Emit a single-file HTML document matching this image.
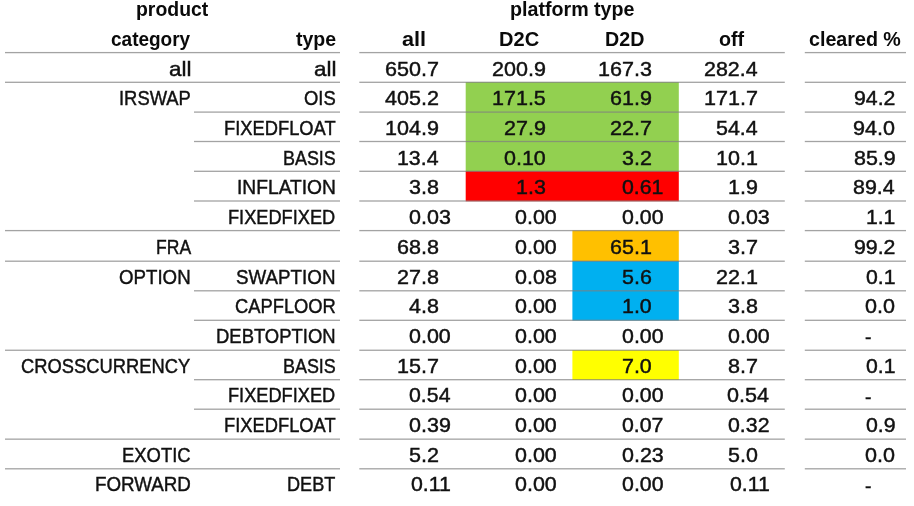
<!DOCTYPE html>
<html lang="en">
<head>
<meta charset="utf-8">
<title>Notional by product and platform type</title>
<style>
html,body{margin:0;padding:0;background:#fff;}
body{width:914px;height:506px;position:relative;overflow:hidden;font-family:"Liberation Sans",sans-serif;color:#111;}
.table{position:absolute;left:0;top:0;width:914px;height:506px;will-change:transform;}
.bg{position:absolute;left:0;top:0;}
.t{position:absolute;white-space:nowrap;line-height:1;-webkit-text-stroke:0.45px #111;}
.b{font-weight:bold;color:#0a0a0a;-webkit-text-stroke:0;}
</style>
</head>
<body>
<div class="table">
<svg class="bg" width="914" height="506" viewBox="0 0 914 506">
<rect x="465.7" y="82.10" width="213.1" height="89.50" fill="#92d050"/>
<rect x="465.7" y="171.10" width="213.1" height="30.20" fill="#ff0000"/>
<rect x="572.4" y="230.40" width="106.4" height="31.10" fill="#ffc000"/>
<rect x="572.4" y="261.00" width="106.4" height="59.60" fill="#00b0f0"/>
<rect x="572.4" y="350.05" width="106.4" height="29.95" fill="#ffff00"/>
<rect x="5" y="51.95" width="335" height="1.3" fill="#808080" fill-opacity="0.72"/>
<rect x="359.3" y="51.95" width="425.5" height="1.3" fill="#808080" fill-opacity="0.72"/>
<rect x="804.8" y="51.95" width="101.2" height="1.3" fill="#808080" fill-opacity="0.72"/>
<rect x="5" y="81.65" width="335" height="1.3" fill="#808080" fill-opacity="0.72"/>
<rect x="359.3" y="81.65" width="425.5" height="1.3" fill="#808080" fill-opacity="0.72"/>
<rect x="804.8" y="81.65" width="101.2" height="1.3" fill="#808080" fill-opacity="0.72"/>
<rect x="194" y="111.45" width="146" height="1.3" fill="#808080" fill-opacity="0.72"/>
<rect x="359.3" y="111.45" width="425.5" height="1.3" fill="#808080" fill-opacity="0.72"/>
<rect x="804.8" y="111.45" width="101.2" height="1.3" fill="#808080" fill-opacity="0.72"/>
<rect x="194" y="140.85" width="146" height="1.3" fill="#808080" fill-opacity="0.72"/>
<rect x="359.3" y="140.85" width="425.5" height="1.3" fill="#808080" fill-opacity="0.72"/>
<rect x="804.8" y="140.85" width="101.2" height="1.3" fill="#808080" fill-opacity="0.72"/>
<rect x="194" y="170.65" width="146" height="1.3" fill="#808080" fill-opacity="0.72"/>
<rect x="359.3" y="170.65" width="425.5" height="1.3" fill="#808080" fill-opacity="0.72"/>
<rect x="804.8" y="170.65" width="101.2" height="1.3" fill="#808080" fill-opacity="0.72"/>
<rect x="194" y="200.35" width="146" height="1.3" fill="#808080" fill-opacity="0.72"/>
<rect x="359.3" y="200.35" width="425.5" height="1.3" fill="#808080" fill-opacity="0.72"/>
<rect x="804.8" y="200.35" width="101.2" height="1.3" fill="#808080" fill-opacity="0.72"/>
<rect x="5" y="229.95" width="335" height="1.3" fill="#808080" fill-opacity="0.72"/>
<rect x="359.3" y="229.95" width="425.5" height="1.3" fill="#808080" fill-opacity="0.72"/>
<rect x="804.8" y="229.95" width="101.2" height="1.3" fill="#808080" fill-opacity="0.72"/>
<rect x="5" y="260.55" width="335" height="1.3" fill="#808080" fill-opacity="0.72"/>
<rect x="359.3" y="260.55" width="425.5" height="1.3" fill="#808080" fill-opacity="0.72"/>
<rect x="804.8" y="260.55" width="101.2" height="1.3" fill="#808080" fill-opacity="0.72"/>
<rect x="194" y="290.15" width="146" height="1.3" fill="#808080" fill-opacity="0.72"/>
<rect x="359.3" y="290.15" width="425.5" height="1.3" fill="#808080" fill-opacity="0.72"/>
<rect x="804.8" y="290.15" width="101.2" height="1.3" fill="#808080" fill-opacity="0.72"/>
<rect x="194" y="319.65" width="146" height="1.3" fill="#808080" fill-opacity="0.72"/>
<rect x="359.3" y="319.65" width="425.5" height="1.3" fill="#808080" fill-opacity="0.72"/>
<rect x="804.8" y="319.65" width="101.2" height="1.3" fill="#808080" fill-opacity="0.72"/>
<rect x="5" y="349.60" width="335" height="1.3" fill="#808080" fill-opacity="0.72"/>
<rect x="359.3" y="349.60" width="425.5" height="1.3" fill="#808080" fill-opacity="0.72"/>
<rect x="804.8" y="349.60" width="101.2" height="1.3" fill="#808080" fill-opacity="0.72"/>
<rect x="194" y="379.05" width="146" height="1.3" fill="#808080" fill-opacity="0.72"/>
<rect x="359.3" y="379.05" width="425.5" height="1.3" fill="#808080" fill-opacity="0.72"/>
<rect x="804.8" y="379.05" width="101.2" height="1.3" fill="#808080" fill-opacity="0.72"/>
<rect x="194" y="408.55" width="146" height="1.3" fill="#808080" fill-opacity="0.72"/>
<rect x="359.3" y="408.55" width="425.5" height="1.3" fill="#808080" fill-opacity="0.72"/>
<rect x="804.8" y="408.55" width="101.2" height="1.3" fill="#808080" fill-opacity="0.72"/>
<rect x="5" y="438.50" width="335" height="1.3" fill="#808080" fill-opacity="0.72"/>
<rect x="359.3" y="438.50" width="425.5" height="1.3" fill="#808080" fill-opacity="0.72"/>
<rect x="804.8" y="438.50" width="101.2" height="1.3" fill="#808080" fill-opacity="0.72"/>
<rect x="5" y="468.15" width="335" height="1.3" fill="#808080" fill-opacity="0.72"/>
<rect x="359.3" y="468.15" width="425.5" height="1.3" fill="#808080" fill-opacity="0.72"/>
<rect x="804.8" y="468.15" width="101.2" height="1.3" fill="#808080" fill-opacity="0.72"/>
</svg>
<span class="t b" style="left:135.57px;top:-0.75px;font-size:20.5px;transform-origin:0 0;transform:scaleX(0.9477)">product</span>
<span class="t b" style="left:509.55px;top:-0.75px;font-size:20.5px;transform-origin:0 0;transform:scaleX(0.9587)">platform type</span>
<span class="t b" style="left:110.58px;top:29.25px;font-size:20.5px;transform-origin:0 0;transform:scaleX(0.9266)">category</span>
<span class="t b" style="left:295.71px;top:29.25px;font-size:20.5px;transform-origin:0 0;transform:scaleX(0.9515)">type</span>
<span class="t b" style="left:401.52px;top:29.25px;font-size:20.5px;transform-origin:0 0;transform:scaleX(1.0560)">all</span>
<span class="t b" style="left:499.44px;top:29.25px;font-size:20.5px;transform-origin:0 0;transform:scaleX(0.9781)">D2C</span>
<span class="t b" style="left:605.37px;top:29.25px;font-size:20.5px;transform-origin:0 0;transform:scaleX(0.9598)">D2D</span>
<span class="t b" style="left:718.73px;top:29.25px;font-size:20.5px;transform-origin:0 0;transform:scaleX(0.9605)">off</span>
<span class="t b" style="left:809.24px;top:29.25px;font-size:20.5px;transform-origin:0 0;transform:scaleX(0.9595)">cleared %</span>
<span class="t" style="left:169.24px;top:58.00px;font-size:21px;transform-origin:0 0;transform:scaleX(1.0695)">all</span>
<span class="t" style="left:118.55px;top:87.00px;font-size:21px;transform-origin:0 0;transform:scaleX(0.8751)">IRSWAP</span>
<span class="t" style="left:155.61px;top:236.00px;font-size:21px;transform-origin:0 0;transform:scaleX(0.8352)">FRA</span>
<span class="t" style="left:119.20px;top:266.00px;font-size:21px;transform-origin:0 0;transform:scaleX(0.8897)">OPTION</span>
<span class="t" style="left:21.03px;top:355.00px;font-size:21px;transform-origin:0 0;transform:scaleX(0.8735)">CROSSCURRENCY</span>
<span class="t" style="left:122.21px;top:444.00px;font-size:21px;transform-origin:0 0;transform:scaleX(0.8770)">EXOTIC</span>
<span class="t" style="left:94.99px;top:473.00px;font-size:21px;transform-origin:0 0;transform:scaleX(0.8932)">FORWARD</span>
<span class="t" style="left:314.14px;top:58.00px;font-size:21px;transform-origin:0 0;transform:scaleX(1.0695)">all</span>
<span class="t" style="left:304.12px;top:87.00px;font-size:21px;transform-origin:0 0;transform:scaleX(0.8772)">OIS</span>
<span class="t" style="left:224.22px;top:117.00px;font-size:21px;transform-origin:0 0;transform:scaleX(0.8723)">FIXEDFLOAT</span>
<span class="t" style="left:282.93px;top:147.00px;font-size:21px;transform-origin:0 0;transform:scaleX(0.8532)">BASIS</span>
<span class="t" style="left:237.11px;top:176.00px;font-size:21px;transform-origin:0 0;transform:scaleX(0.9149)">INFLATION</span>
<span class="t" style="left:228.18px;top:206.00px;font-size:21px;transform-origin:0 0;transform:scaleX(0.8669)">FIXEDFIXED</span>
<span class="t" style="left:236.18px;top:266.00px;font-size:21px;transform-origin:0 0;transform:scaleX(0.8940)">SWAPTION</span>
<span class="t" style="left:235.23px;top:295.00px;font-size:21px;transform-origin:0 0;transform:scaleX(0.8727)">CAPFLOOR</span>
<span class="t" style="left:215.81px;top:325.00px;font-size:21px;transform-origin:0 0;transform:scaleX(0.8786)">DEBTOPTION</span>
<span class="t" style="left:283.21px;top:355.00px;font-size:21px;transform-origin:0 0;transform:scaleX(0.8536)">BASIS</span>
<span class="t" style="left:228.18px;top:384.00px;font-size:21px;transform-origin:0 0;transform:scaleX(0.8669)">FIXEDFIXED</span>
<span class="t" style="left:224.22px;top:414.00px;font-size:21px;transform-origin:0 0;transform:scaleX(0.8723)">FIXEDFLOAT</span>
<span class="t" style="left:287.23px;top:473.00px;font-size:21px;transform-origin:0 0;transform:scaleX(0.8625)">DEBT</span>
<span class="t" style="left:385.26px;top:58.00px;font-size:21px;transform-origin:0 0;transform:scaleX(1.0260)">650.7</span>
<span class="t" style="left:492.12px;top:58.00px;font-size:21px;transform-origin:0 0;transform:scaleX(1.0248)">200.9</span>
<span class="t" style="left:598.16px;top:58.00px;font-size:21px;transform-origin:0 0;transform:scaleX(1.0267)">167.3</span>
<span class="t" style="left:703.74px;top:58.00px;font-size:21px;transform-origin:0 0;transform:scaleX(1.0185)">282.4</span>
<span class="t" style="left:385.26px;top:87.00px;font-size:21px;transform-origin:0 0;transform:scaleX(1.0260)">405.2</span>
<span class="t" style="left:491.80px;top:87.00px;font-size:21px;transform-origin:0 0;transform:scaleX(1.0242)">171.5</span>
<span class="t" style="left:610.16px;top:87.00px;font-size:21px;transform-origin:0 0;transform:scaleX(1.0235)">61.9</span>
<span class="t" style="left:704.26px;top:87.00px;font-size:21px;transform-origin:0 0;transform:scaleX(1.0260)">171.7</span>
<span class="t" style="left:853.65px;top:87.00px;font-size:21px;transform-origin:0 0;transform:scaleX(1.0145)">94.2</span>
<span class="t" style="left:385.16px;top:117.00px;font-size:21px;transform-origin:0 0;transform:scaleX(1.0260)">104.9</span>
<span class="t" style="left:504.06px;top:117.00px;font-size:21px;transform-origin:0 0;transform:scaleX(1.0239)">27.9</span>
<span class="t" style="left:610.17px;top:117.00px;font-size:21px;transform-origin:0 0;transform:scaleX(1.0260)">22.7</span>
<span class="t" style="left:715.90px;top:117.00px;font-size:21px;transform-origin:0 0;transform:scaleX(1.0214)">54.4</span>
<span class="t" style="left:853.26px;top:117.00px;font-size:21px;transform-origin:0 0;transform:scaleX(1.0260)">94.0</span>
<span class="t" style="left:397.26px;top:147.00px;font-size:21px;transform-origin:0 0;transform:scaleX(1.0159)">13.4</span>
<span class="t" style="left:503.65px;top:147.00px;font-size:21px;transform-origin:0 0;transform:scaleX(1.0220)">0.10</span>
<span class="t" style="left:622.29px;top:147.00px;font-size:21px;transform-origin:0 0;transform:scaleX(1.0216)">3.2</span>
<span class="t" style="left:716.41px;top:147.00px;font-size:21px;transform-origin:0 0;transform:scaleX(1.0234)">10.1</span>
<span class="t" style="left:853.78px;top:147.00px;font-size:21px;transform-origin:0 0;transform:scaleX(1.0216)">85.9</span>
<span class="t" style="left:408.79px;top:176.00px;font-size:21px;transform-origin:0 0;transform:scaleX(1.0251)">3.8</span>
<span class="t" style="left:515.82px;top:176.00px;font-size:21px;transform-origin:0 0;transform:scaleX(1.0228)">1.3</span>
<span class="t" style="left:621.66px;top:176.00px;font-size:21px;transform-origin:0 0;transform:scaleX(1.0146)">0.61</span>
<span class="t" style="left:728.43px;top:176.00px;font-size:21px;transform-origin:0 0;transform:scaleX(1.0211)">1.9</span>
<span class="t" style="left:853.32px;top:176.00px;font-size:21px;transform-origin:0 0;transform:scaleX(1.0181)">89.4</span>
<span class="t" style="left:408.71px;top:206.00px;font-size:21px;transform-origin:0 0;transform:scaleX(1.0239)">0.03</span>
<span class="t" style="left:515.21px;top:206.00px;font-size:21px;transform-origin:0 0;transform:scaleX(1.0220)">0.00</span>
<span class="t" style="left:621.71px;top:206.00px;font-size:21px;transform-origin:0 0;transform:scaleX(1.0170)">0.00</span>
<span class="t" style="left:727.80px;top:206.00px;font-size:21px;transform-origin:0 0;transform:scaleX(1.0224)">0.03</span>
<span class="t" style="left:865.67px;top:206.00px;font-size:21px;transform-origin:0 0;transform:scaleX(1.0059)">1.1</span>
<span class="t" style="left:397.47px;top:236.00px;font-size:21px;transform-origin:0 0;transform:scaleX(1.0262)">68.8</span>
<span class="t" style="left:515.21px;top:236.00px;font-size:21px;transform-origin:0 0;transform:scaleX(1.0220)">0.00</span>
<span class="t" style="left:610.35px;top:236.00px;font-size:21px;transform-origin:0 0;transform:scaleX(1.0234)">65.1</span>
<span class="t" style="left:728.20px;top:236.00px;font-size:21px;transform-origin:0 0;transform:scaleX(1.0291)">3.7</span>
<span class="t" style="left:853.65px;top:236.00px;font-size:21px;transform-origin:0 0;transform:scaleX(1.0145)">99.2</span>
<span class="t" style="left:397.06px;top:266.00px;font-size:21px;transform-origin:0 0;transform:scaleX(1.0260)">27.8</span>
<span class="t" style="left:515.31px;top:266.00px;font-size:21px;transform-origin:0 0;transform:scaleX(1.0234)">0.08</span>
<span class="t" style="left:621.52px;top:266.00px;font-size:21px;transform-origin:0 0;transform:scaleX(1.0218)">5.6</span>
<span class="t" style="left:716.16px;top:266.00px;font-size:21px;transform-origin:0 0;transform:scaleX(1.0260)">22.1</span>
<span class="t" style="left:865.66px;top:266.00px;font-size:21px;transform-origin:0 0;transform:scaleX(1.0117)">0.1</span>
<span class="t" style="left:408.94px;top:295.00px;font-size:21px;transform-origin:0 0;transform:scaleX(1.0236)">4.8</span>
<span class="t" style="left:515.21px;top:295.00px;font-size:21px;transform-origin:0 0;transform:scaleX(1.0220)">0.00</span>
<span class="t" style="left:622.26px;top:295.00px;font-size:21px;transform-origin:0 0;transform:scaleX(1.0174)">1.0</span>
<span class="t" style="left:727.79px;top:295.00px;font-size:21px;transform-origin:0 0;transform:scaleX(1.0251)">3.8</span>
<span class="t" style="left:865.26px;top:295.00px;font-size:21px;transform-origin:0 0;transform:scaleX(1.0260)">0.0</span>
<span class="t" style="left:408.65px;top:325.00px;font-size:21px;transform-origin:0 0;transform:scaleX(1.0220)">0.00</span>
<span class="t" style="left:515.21px;top:325.00px;font-size:21px;transform-origin:0 0;transform:scaleX(1.0220)">0.00</span>
<span class="t" style="left:621.71px;top:325.00px;font-size:21px;transform-origin:0 0;transform:scaleX(1.0170)">0.00</span>
<span class="t" style="left:727.63px;top:325.00px;font-size:21px;transform-origin:0 0;transform:scaleX(1.0207)">0.00</span>
<span class="t" style="left:865.16px;top:326.00px;font-size:21px;transform-origin:0 0;transform:scaleX(0.9185)">-</span>
<span class="t" style="left:397.27px;top:355.00px;font-size:21px;transform-origin:0 0;transform:scaleX(1.0260)">15.7</span>
<span class="t" style="left:515.21px;top:355.00px;font-size:21px;transform-origin:0 0;transform:scaleX(1.0220)">0.00</span>
<span class="t" style="left:621.79px;top:355.00px;font-size:21px;transform-origin:0 0;transform:scaleX(1.0205)">7.0</span>
<span class="t" style="left:728.27px;top:355.00px;font-size:21px;transform-origin:0 0;transform:scaleX(1.0260)">8.7</span>
<span class="t" style="left:865.66px;top:355.00px;font-size:21px;transform-origin:0 0;transform:scaleX(1.0117)">0.1</span>
<span class="t" style="left:408.56px;top:384.00px;font-size:21px;transform-origin:0 0;transform:scaleX(1.0149)">0.54</span>
<span class="t" style="left:515.21px;top:384.00px;font-size:21px;transform-origin:0 0;transform:scaleX(1.0220)">0.00</span>
<span class="t" style="left:621.71px;top:384.00px;font-size:21px;transform-origin:0 0;transform:scaleX(1.0170)">0.00</span>
<span class="t" style="left:727.35px;top:384.00px;font-size:21px;transform-origin:0 0;transform:scaleX(1.0260)">0.54</span>
<span class="t" style="left:865.16px;top:386.00px;font-size:21px;transform-origin:0 0;transform:scaleX(0.9185)">-</span>
<span class="t" style="left:409.12px;top:414.00px;font-size:21px;transform-origin:0 0;transform:scaleX(1.0237)">0.39</span>
<span class="t" style="left:515.21px;top:414.00px;font-size:21px;transform-origin:0 0;transform:scaleX(1.0220)">0.00</span>
<span class="t" style="left:621.78px;top:414.00px;font-size:21px;transform-origin:0 0;transform:scaleX(1.0143)">0.07</span>
<span class="t" style="left:727.88px;top:414.00px;font-size:21px;transform-origin:0 0;transform:scaleX(1.0149)">0.32</span>
<span class="t" style="left:865.69px;top:414.00px;font-size:21px;transform-origin:0 0;transform:scaleX(1.0166)">0.9</span>
<span class="t" style="left:409.27px;top:444.00px;font-size:21px;transform-origin:0 0;transform:scaleX(1.0260)">5.2</span>
<span class="t" style="left:515.21px;top:444.00px;font-size:21px;transform-origin:0 0;transform:scaleX(1.0220)">0.00</span>
<span class="t" style="left:621.69px;top:444.00px;font-size:21px;transform-origin:0 0;transform:scaleX(1.0220)">0.23</span>
<span class="t" style="left:727.55px;top:444.00px;font-size:21px;transform-origin:0 0;transform:scaleX(1.0211)">5.0</span>
<span class="t" style="left:865.26px;top:444.00px;font-size:21px;transform-origin:0 0;transform:scaleX(1.0260)">0.0</span>
<span class="t" style="left:410.78px;top:473.00px;font-size:21px;transform-origin:0 0;transform:scaleX(1.0156)">0.11</span>
<span class="t" style="left:515.21px;top:473.00px;font-size:21px;transform-origin:0 0;transform:scaleX(1.0220)">0.00</span>
<span class="t" style="left:621.71px;top:473.00px;font-size:21px;transform-origin:0 0;transform:scaleX(1.0170)">0.00</span>
<span class="t" style="left:729.78px;top:473.00px;font-size:21px;transform-origin:0 0;transform:scaleX(1.0139)">0.11</span>
<span class="t" style="left:865.16px;top:475.00px;font-size:21px;transform-origin:0 0;transform:scaleX(0.9185)">-</span>
</div>
</body>
</html>
